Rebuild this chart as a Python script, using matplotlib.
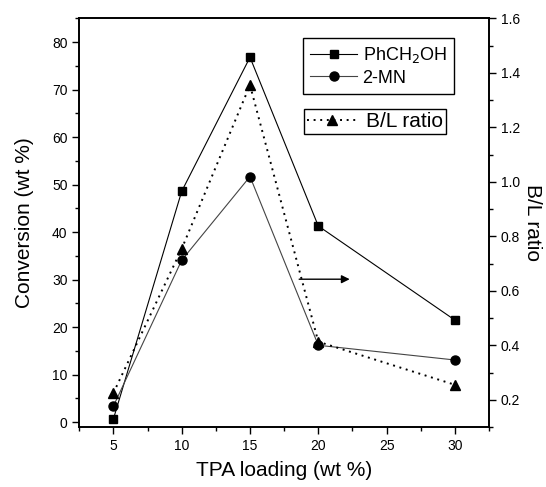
import numpy as np
import matplotlib
matplotlib.use("Agg")
import matplotlib.pyplot as plt
from matplotlib.ticker import MultipleLocator

plt.rcParams["font.family"] = ["Liberation Sans", "DejaVu Sans"]

# ====================================================================
# DATA
# ====================================================================
tpa_loading = [5, 10, 15, 20, 30]
conv_phch2oh = [0.7, 48.6, 76.8, 41.3, 21.5]
conv_2mn = [3.4, 34.1, 51.7, 16.2, 13.1]
bl_ratio = [0.225, 0.754, 1.355, 0.413, 0.255]

# ====================================================================
# FIGURE
# ====================================================================
fig = plt.figure(figsize = (5.46, 4.87), dpi = 100)
ax = fig.add_axes([0.1452, 0.1232, 0.7504, 0.8392])
ax2 = ax.twinx()

l1, = ax.plot(tpa_loading, conv_phch2oh, color = "black", linewidth = 0.8,
              marker = "s", markersize = 6, label = r"PhCH$_2$OH")
l2, = ax.plot(tpa_loading, conv_2mn, color = "#444444", linewidth = 0.8,
              marker = "o", markersize = 6.5, markerfacecolor = "black",
              markeredgecolor = "black", label = "2-MN")
l3, = ax2.plot(tpa_loading, bl_ratio, color = "black", linewidth = 1.4,
               linestyle = (0, (1, 2.4)), marker = "^", markersize = 7.5,
               label = "B/L ratio")

ax.set_xlim(2.5, 32.5)
ax.set_ylim(-1, 85)
ax2.set_ylim(0.1, 1.6)

ax.xaxis.set_major_locator(MultipleLocator(5))
ax.xaxis.set_minor_locator(MultipleLocator(2.5))
ax.yaxis.set_major_locator(MultipleLocator(10))
ax.yaxis.set_minor_locator(MultipleLocator(5))
ax2.yaxis.set_major_locator(MultipleLocator(0.2))
ax2.yaxis.set_minor_locator(MultipleLocator(0.1))
ax2.yaxis.set_major_formatter(plt.FormatStrFormatter("%.1f"))

for a in (ax, ax2):
    a.tick_params(which = "major", direction = "out", length = 5, width = 1,
                  labelsize = 10)
    a.tick_params(which = "minor", direction = "out", length = 3, width = 1)
    for sp in a.spines.values():
        sp.set_linewidth(1.2)

ax.set_xlabel("TPA loading (wt %)", fontsize = 15, labelpad = 6)
ax.set_ylabel("Conversion (wt %)", fontsize = 15, labelpad = 13)
ax2.set_ylabel("B/L ratio", fontsize = 15, rotation = -90, labelpad = 16)

# arrow pointing to the right-hand axis
ax.annotate("", xy = (22.3, 30.1), xytext = (18.6, 30.1),
            arrowprops = dict(arrowstyle = "-|>", color = "black", lw = 1.0,
                              mutation_scale = 12, shrinkA = 0, shrinkB = 0))

leg1 = fig.legend(handles = [l1, l2], loc = "upper left",
                  bbox_to_anchor = (0.555, 0.922), borderaxespad = 0,
                  fontsize = 13, fancybox = False, edgecolor = "black",
                  framealpha = 1, handlelength = 2.6, handletextpad = 0.3,
                  labelspacing = 0.25, borderpad = 0.4)
leg1.get_frame().set_linewidth(1.0)
leg2 = fig.legend(handles = [l3], loc = "upper left",
                  bbox_to_anchor = (0.557, 0.776), borderaxespad = 0,
                  fontsize = 15, fancybox = False, edgecolor = "black",
                  framealpha = 1, handlelength = 2.4, handletextpad = 0.4,
                  borderpad = 0.15)
leg2.get_frame().set_linewidth(1.0)

fig.savefig("out.png", dpi = 100)
plt.close(fig)
